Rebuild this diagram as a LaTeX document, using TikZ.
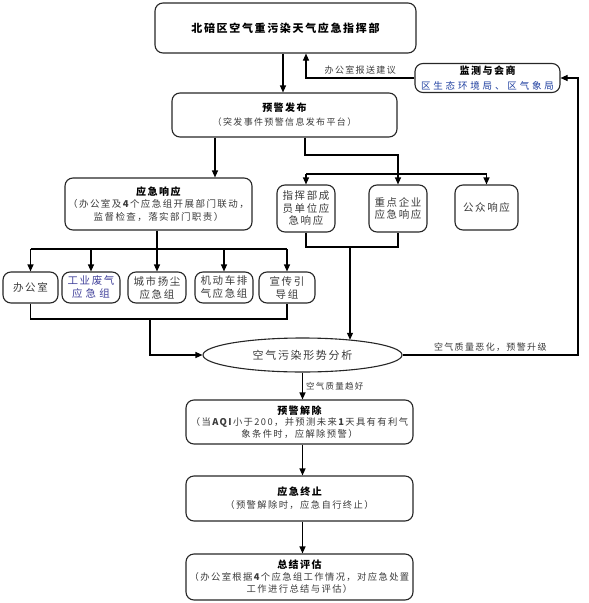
\documentclass[tikz,border=0pt]{standalone}
\usepackage{fontspec}
\setmainfont{Liberation Serif}
\newfontfamily\cjk[LetterSpace=15]{Noto Sans CJK SC}
\newfontfamily\cjkw[LetterSpace=30]{Noto Sans CJK SC}
\usetikzlibrary{arrows.meta,shapes.geometric}
\definecolor{txt}{HTML}{3A3A3A}
\definecolor{blu}{HTML}{2040A0}
\definecolor{gyc}{HTML}{40409A}
\tikzset{
 box/.style={draw=black!85, line width=1.1pt, rounded corners=8pt, align=center, inner sep=1pt, text=txt, font=\cjk\fontsize{9}{12}\selectfont},
 sbox/.style={box, minimum height=31, font=\cjk\fontsize{10.5}{13}\selectfont},
 arr/.style={-{Triangle[length=7pt,width=6pt]}, line width=1.1pt},
 ln/.style={line width=1.1pt},
 lbl/.style={font=\cjk\fontsize{9}{11}\selectfont, text=txt, inner sep=3pt},
}
\newcommand{\ttl}[1]{{\fontsize{10}{13}\selectfont\bfseries\color{black}#1}}
\begin{document}
\begin{tikzpicture}[x=1pt,y=-1pt]
\useasboundingbox (0,0) rectangle (589,603);
% nodes
\node[box, minimum width=261, minimum height=50, font=\cjk\fontsize{11}{13}\selectfont\bfseries, text=black] (top) at (285.5,28) {北碚区空气重污染天气应急指挥部};
\node[box, minimum width=145, minimum height=29, inner sep=0pt, font=\cjk\fontsize{9.5}{15}\selectfont] (jc) at (487.5,78) {\ttl{监测与会商}\\{\cjkw\color{blu}区生态环境局、区气象局}};
\node[box, minimum width=225, minimum height=44, font=\cjk\fontsize{9}{14}\selectfont] (yjfb) at (284.5,115) {\ttl{预警发布}\\（突发事件预警信息发布平台）};
\node[box, minimum width=187, minimum height=52, font=\cjk\fontsize{9.5}{12.5}\selectfont] (yjxy) at (158.5,204) {\ttl{应急响应}\\（办公室及\textbf{4}个应急组开展部门联动，\\监督检查，落实部门职责）};
\node[box, minimum width=58, minimum height=47, font=\cjk\fontsize{10.5}{12.5}\selectfont] (zhb) at (306,208.5) {指挥部成\\员单位应\\急响应};
\node[box, minimum width=58, minimum height=47, font=\cjk\fontsize{10.5}{12.5}\selectfont] (zdqy) at (398,208.5) {重点企业\\应急响应};
\node[box, minimum width=63, minimum height=45, font=\cjk\fontsize{10.5}{12.5}\selectfont] (gz) at (486.5,207.5) {公众响应};
\node[sbox, minimum width=55] (bgs) at (30.5,287.5) {办公室};
\node[sbox, minimum width=58, text=gyc] (gy) at (91,287.5) {工业废气\\{\cjkw 应急组}};
\node[sbox, minimum width=58] (cs) at (157,287.5) {城市扬尘\\应急组};
\node[sbox, minimum width=58] (jd) at (224,287.5) {机动车排\\气应急组};
\node[sbox, minimum width=56] (xc) at (287,287.5) {宣传引\\导组};
\node[ellipse, draw=black!85, line width=1.1pt, minimum width=199, minimum height=34, inner sep=0pt, text=txt, font=\cjk\fontsize{11}{13}\selectfont] (ell) at (302.5,355) {空气污染形势分析};
\node[box, minimum width=227, minimum height=44, font=\cjk\fontsize{9.3}{11.5}\selectfont] (yjjc) at (299.5,422) {\ttl{预警解除}\\（当\textbf{AQI}小于200，并预测未来\textbf{1}天具有有利气\\象条件时，应解除预警）};
\node[box, minimum width=227, minimum height=45, font=\cjk\fontsize{9.3}{13}\selectfont] (yjzz) at (299.5,498.5) {\ttl{应急终止}\\（预警解除时，应急自行终止）};
\node[box, minimum width=227, minimum height=46, font=\cjk\fontsize{9.3}{12}\selectfont] (zjpg) at (299.5,577) {\ttl{总结评估}\\（办公室根据\textbf{4}个应急组工作情况，对应急处置\\工作进行总结与评估）};
% guide coordinates
\coordinate (xT) at (283,0);
\coordinate (xU) at (306,0);
\coordinate (xR) at (578,0);
\coordinate (xA) at (215,0);
\coordinate (xB) at (305,0);
\coordinate (yB) at (0,155);
\coordinate (yC) at (0,174);
\coordinate (yD) at (0,249);
\coordinate (yE) at (0,319);
\coordinate (xF) at (150,0);
\coordinate (yG) at (0,247);
\coordinate (xG) at (350,0);
% connectors
\draw[arr] (top.south -| xT) -- (yjfb.north -| xT);
\draw[arr] (jc.west) -| node[pos=0.25, above, lbl] {办公室报送建议} (top.south -| xU);
\draw[arr] (ell.east) -- node[above, lbl] {空气质量恶化，预警升级} (ell.east -| xR) |- (jc.east);
\draw[arr] (yjfb.south -| xA) -- (yjxy.north -| xA);
\draw[arr] (yjfb.south -| xB) -- (xB |- yB) -| (zdqy.north);
\draw[ln] (zhb.north |- yC) -- (gz.north |- yC);
\draw[arr] (zhb.north |- yC) -- (zhb.north);
\draw[arr] (gz.north |- yC) -- (gz.north);
\draw[arr] (yjxy.south -| cs.north) -- (cs.north);
\draw[ln] (bgs.north |- yD) -- (xc.north |- yD);
\foreach \n in {bgs,gy,jd,xc} \draw[arr] (\n.north |- yD) -- (\n.north);
\draw[ln] (bgs.south) -- (bgs.south |- yE) -- (xc.south |- yE) -- (xc.south);
\draw[arr] (xF |- yE) |- (ell.west);
\draw[ln] (zhb.south) -- (zhb.south |- yG) -- (zdqy.south |- yG) -- (zdqy.south);
\draw[arr] (xG |- yG) -- (xG |- ell.17.4);
\draw[arr] (ell.south) -- node[right, lbl, font=\cjk\fontsize{8.5}{10}\selectfont] {空气质量趋好} (ell.south |- yjjc.north);
\draw[arr] (yjjc.south -| ell.south) -- (yjzz.north -| ell.south);
\draw[arr] (yjzz.south -| ell.south) -- (zjpg.north -| ell.south);
\end{tikzpicture}
\end{document}
